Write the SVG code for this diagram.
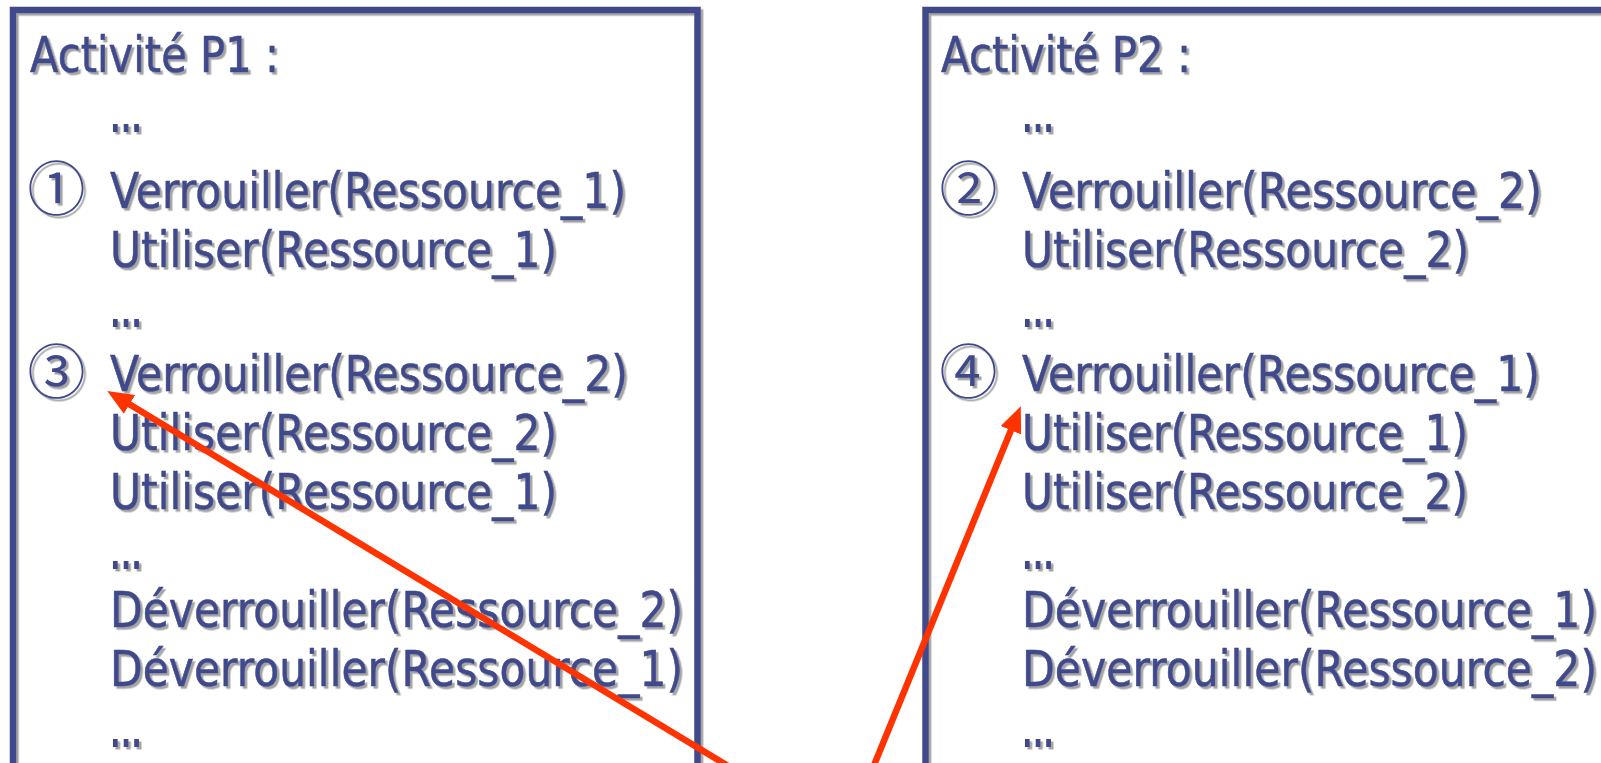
<svg xmlns="http://www.w3.org/2000/svg" width="1601" height="763" viewBox="0 0 1601 763">
<defs>
<style>
.box{fill:none;stroke:#3f4a8c;stroke-width:6.5}
.t{font-family:"DejaVu Sans","Liberation Sans",sans-serif;font-size:50px;fill:#3f4a8c;stroke:#3f4a8c;stroke-width:0.6}
.d{font-family:"DejaVu Sans","Liberation Sans",sans-serif;font-size:50px;fill:#3f4a8c;stroke:#3f4a8c;stroke-width:1.8}
.n{font-family:"Noto Sans CJK JP","DejaVu Sans",sans-serif;font-size:58px;fill:#3f4a8c;text-anchor:middle}
.arr{stroke:#ff3300;stroke-width:6.5;fill:none}
</style>
<filter id="sh" x="-5%" y="-5%" width="110%" height="110%">
<feDropShadow dx="2.5" dy="2.5" stdDeviation="0.7" flood-color="#9a9a9a" flood-opacity="0.9"/>
</filter>
<marker id="ah" markerUnits="userSpaceOnUse" markerWidth="28" markerHeight="24" refX="6" refY="11" orient="auto">
<path d="M0,0 L26,11 L0,22 z" fill="#ff3300"/>
</marker>
</defs>
<rect width="1601" height="763" fill="#ffffff"/>
<g id="p1" filter="url(#sh)">
<rect class="box" x="13" y="10" width="684.5" height="800"/>
<text class="t" x="30" y="72" textLength="249" lengthAdjust="spacingAndGlyphs">Activité P1 :</text>
<text class="d" x="110" y="131" textLength="32" lengthAdjust="spacingAndGlyphs">...</text>
<text class="n" x="56.5" y="210">①</text>
<text class="t" x="110" y="208" textLength="516" lengthAdjust="spacingAndGlyphs">Verrouiller(Ressource_1)</text>
<text class="t" x="110" y="267" textLength="447" lengthAdjust="spacingAndGlyphs">Utiliser(Ressource_1)</text>
<text class="d" x="110" y="326" textLength="32" lengthAdjust="spacingAndGlyphs">...</text>
<text class="n" x="56.5" y="393">③</text>
<text class="t" x="110" y="391" textLength="518" lengthAdjust="spacingAndGlyphs">Verrouiller(Ressource_2)</text>
<text class="t" x="110" y="450" textLength="447" lengthAdjust="spacingAndGlyphs">Utiliser(Ressource_2)</text>
<text class="t" x="110" y="509" textLength="447" lengthAdjust="spacingAndGlyphs">Utiliser(Ressource_1)</text>
<text class="d" x="110" y="568" textLength="32" lengthAdjust="spacingAndGlyphs">...</text>
<text class="t" x="110" y="627" textLength="573" lengthAdjust="spacingAndGlyphs">Déverrouiller(Ressource_2)</text>
<text class="t" x="110" y="686" textLength="573" lengthAdjust="spacingAndGlyphs">Déverrouiller(Ressource_1)</text>
<text class="d" x="110" y="746" textLength="32" lengthAdjust="spacingAndGlyphs">...</text>
</g>
<g id="p2" filter="url(#sh)">
<rect class="box" x="925.5" y="10" width="720" height="800"/>
<text class="t" x="941" y="72" textLength="250" lengthAdjust="spacingAndGlyphs">Activité P2 :</text>
<text class="d" x="1022" y="131" textLength="32" lengthAdjust="spacingAndGlyphs">...</text>
<text class="n" x="968.5" y="210">②</text>
<text class="t" x="1022" y="208" textLength="520" lengthAdjust="spacingAndGlyphs">Verrouiller(Ressource_2)</text>
<text class="t" x="1022" y="267" textLength="447" lengthAdjust="spacingAndGlyphs">Utiliser(Ressource_2)</text>
<text class="d" x="1022" y="326" textLength="32" lengthAdjust="spacingAndGlyphs">...</text>
<text class="n" x="968.5" y="393">④</text>
<text class="t" x="1022" y="391" textLength="518" lengthAdjust="spacingAndGlyphs">Verrouiller(Ressource_1)</text>
<text class="t" x="1022" y="450" textLength="446" lengthAdjust="spacingAndGlyphs">Utiliser(Ressource_1)</text>
<text class="t" x="1022" y="509" textLength="446" lengthAdjust="spacingAndGlyphs">Utiliser(Ressource_2)</text>
<text class="d" x="1022" y="568" textLength="32" lengthAdjust="spacingAndGlyphs">...</text>
<text class="t" x="1022" y="627" textLength="575" lengthAdjust="spacingAndGlyphs">Déverrouiller(Ressource_1)</text>
<text class="t" x="1022" y="686" textLength="575" lengthAdjust="spacingAndGlyphs">Déverrouiller(Ressource_2)</text>
<text class="d" x="1022" y="746" textLength="32" lengthAdjust="spacingAndGlyphs">...</text>
</g>
<g id="connectors">
<path class="arr" d="M743,775 L124.4,401.3" marker-end="url(#ah)"/>
<path class="arr" d="M870,775 L1013.2,424.7" marker-end="url(#ah)"/>
</g>
</svg>
